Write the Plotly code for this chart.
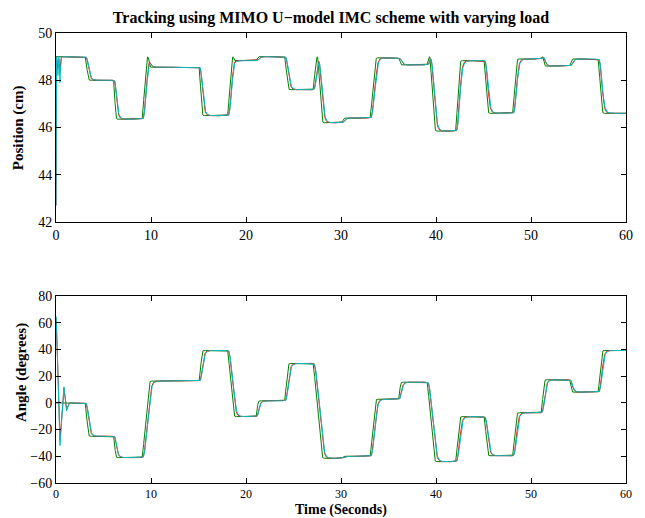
import numpy as np
import plotly.graph_objects as go

# ---------------- data ----------------
seg_start = [0, 3, 6, 9, 12, 15, 18, 21, 24, 27, 30, 33, 36, 39, 42, 45, 48, 51, 54, 57]
angle_ref = [0, -25, -41, 16.3, 16.3, 39.2, -10.3, 1.5, 29.5, -41.5,
             -40, 2.7, 15.5, -44, -10.3, -39.6, -7.4, 17.3, 8, 39.2]
pos_ref = [49.0, 48.0, 46.35, 48.55, 48.55, 46.5, 48.83, 49.0, 47.6, 46.2,
           46.4, 48.95, 48.65, 45.85, 48.83, 46.6, 48.9, 48.6, 48.9, 46.6]
pos_bump_times = [9, 18, 27, 39, 51]
pos_bump_peak = 49.0

# start-up transients of the measured outputs
ang_init_t = [0, 0.05, 0.42, 0.84, 1.12, 1.35]
ang_init_cyan = [65, 60, -32, 12, -6, 0]
ang_init_red = [64, 58, -28, 11, -5, 0]
pos_init_t = [0, 0.06, 0.2, 0.3, 0.42, 0.5, 0.6]
pos_init_cyan = [42.7, 49.0, 48.2, 49.0, 47.9, 48.9, 49.0]
pos_init_red = [42.7, 49.0, 48.5, 48.9, 48.3, 49.0, 49.0]

RATE = 75.0     # deg/s rate of the reference transitions
dt = 0.01
t = np.arange(0, 60 + dt / 2, dt)


def build_refs():
    at, av = [0.0], [angle_ref[0]]
    pt, pv = [0.0], [pos_ref[0]]
    for i in range(1, len(seg_start)):
        T = seg_start[i]
        a, b = angle_ref[i - 1], angle_ref[i]
        pa, pb = pos_ref[i - 1], pos_ref[i]
        if a == b and pa == pb:
            continue
        D = max(0.2, abs(b - a) / RATE)
        t0 = T + 0.05
        at += [t0, t0 + D]
        av += [a, b]
        if T in pos_bump_times:
            tc = t0 + abs(a) / abs(b - a) * D
            h = 0.08
            pt += [t0, tc - h, tc + h, t0 + D]
            pv += [pa, pos_bump_peak, pos_bump_peak, pb]
        else:
            pt += [t0, t0 + D]
            pv += [pa, pb]
    at.append(60.0); av.append(angle_ref[-1])
    pt.append(60.0); pv.append(pos_ref[-1])
    return np.interp(t, at, av), np.interp(t, pt, pv)


def lag(x, tau, delay=0.0):
    n = int(round(delay / dt))
    xd = np.concatenate([np.full(n, x[0]), x[:len(x) - n]]) if n > 0 else x
    y = np.empty_like(xd)
    y[0] = xd[0]
    a = dt / (tau + dt)
    for k in range(1, len(xd)):
        y[k] = y[k - 1] + a * (xd[k] - y[k - 1])
    return y


ang_lin, pos_lin = build_refs()
ang_green = lag(ang_lin, 0.04)
pos_green = lag(pos_lin, 0.04)

ang_cyan = lag(ang_green, 0.16, 0.08)
ang_red = lag(ang_green, 0.14, 0.07)
pos_cyan = lag(pos_green, 0.16, 0.08)
pos_red = lag(pos_green, 0.14, 0.07)

m = t <= ang_init_t[-1]
ang_cyan[m] = np.interp(t[m], ang_init_t, ang_init_cyan)
ang_red[m] = np.interp(t[m], ang_init_t, ang_init_red)
m = t <= pos_init_t[-1]
pos_cyan[m] = np.interp(t[m], pos_init_t, pos_init_cyan)
pos_red[m] = np.interp(t[m], pos_init_t, pos_init_red)

GREEN = "rgb(0,128,0)"
RED = "rgb(255,0,0)"
CYAN = "rgb(0,191,196)"

fig = go.Figure()
for y, c in [(pos_green, GREEN), (pos_red, RED), (pos_cyan, CYAN)]:
    fig.add_trace(go.Scatter(x=t, y=y, mode="lines", line=dict(color=c, width=1),
                             xaxis="x", yaxis="y", showlegend=False, hoverinfo="skip"))
for y, c in [(ang_green, GREEN), (ang_red, RED), (ang_cyan, CYAN)]:
    fig.add_trace(go.Scatter(x=t, y=y, mode="lines", line=dict(color=c, width=1),
                             xaxis="x2", yaxis="y2", showlegend=False, hoverinfo="skip"))

FONT = "Liberation Serif"
ax = dict(showline=True, linecolor="black", linewidth=1, mirror="allticks",
          ticks="inside", ticklen=5, tickcolor="black", showgrid=False,
          zeroline=False, tickfont=dict(family=FONT, size=14, color="black"))

BOT = 483          # pixel row of the lower axes' bottom edge
H = BOT - 33       # plot-area height in pixels

fig.update_layout(
    width=645, height=518,
    margin=dict(l=56, r=17, t=33, b=518 - BOT),
    paper_bgcolor="white", plot_bgcolor="white",
    title=dict(text="<b>Tracking using MIMO U\u2212model IMC scheme with varying load</b>",
               x=331 / 645, xanchor="center", y=1 - 17 / 518, yanchor="middle",
               font=dict(family=FONT, size=16, color="black")),
    xaxis=dict(domain=[0, 1], anchor="y", range=[0, 60], dtick=10, **ax),
    yaxis=dict(domain=[(BOT - 222) / H, 1], anchor="x", range=[42, 50], dtick=2, **ax),
    xaxis2=dict(domain=[0, 1], anchor="y2", range=[0, 60], dtick=10,
                **{**ax, "tickfont": dict(family=FONT, size=12, color="black")}),
    yaxis2=dict(domain=[0, (BOT - 296) / H], anchor="x2", range=[-60, 80], dtick=20, **ax),
    annotations=[
        dict(text="<b>Position (cm)</b>", xref="paper", yref="paper",
             x=(18 - 56) / 572, y=(BOT - 128) / H, textangle=-90, showarrow=False,
             xanchor="center", yanchor="middle", font=dict(family=FONT, size=15, color="black")),
        dict(text="<b>Angle (degrees)</b>", xref="paper", yref="paper",
             x=(21 - 56) / 572, y=(BOT - 373) / H, textangle=-90, showarrow=False,
             xanchor="center", yanchor="middle", font=dict(family=FONT, size=15, color="black")),
        dict(text="<b>Time (Seconds)</b>", xref="paper", yref="paper",
             x=(342 - 56) / 572, y=(BOT - 510) / H, showarrow=False,
             xanchor="center", yanchor="middle", font=dict(family=FONT, size=14, color="black")),
    ],
)

fig.write_html("out.html")
